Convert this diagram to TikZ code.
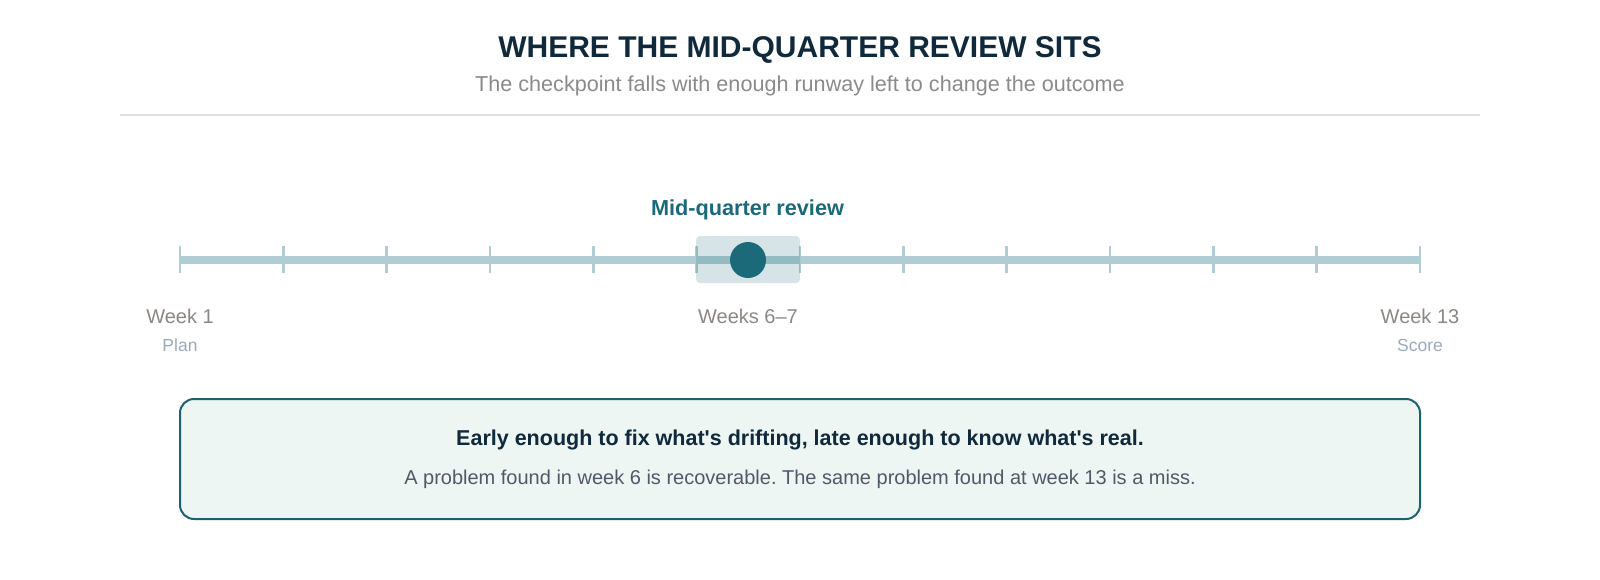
\documentclass[tikz,border=0pt]{standalone}
\usepackage{fontspec}
\setmainfont{Liberation Sans}
\definecolor{titleink}{HTML}{10293B}
\definecolor{subgrey}{HTML}{8A8A8A}
\definecolor{rulegrey}{HTML}{DEDEDE}
\definecolor{railblue}{HTML}{AFCDD2}
\definecolor{reviewteal}{HTML}{1B6A7A}
\definecolor{weekgrey}{HTML}{8C8782}
\definecolor{taggrey}{HTML}{9AAABB}
\definecolor{noteline}{HTML}{1C6170}
\definecolor{notefill}{HTML}{EDF6F3}
\definecolor{notegrey}{HTML}{505A67}
\frenchspacing
\tikzset{
  weektick/.style={draw=railblue, line width=2.8pt},
  weekname/.style={anchor=base, text=weekgrey, font=\fontsize{20}{24}\selectfont},
  weektag/.style={anchor=base, text=taggrey, font=\fontsize{17.5}{21}\selectfont},
  reviewband/.style={fill=reviewteal, fill opacity=0.18, rounded corners=4pt,
    minimum width=104pt, minimum height=47pt, inner sep=0pt},
  reviewdot/.style={circle, fill=reviewteal, minimum size=36pt, inner sep=0pt},
  notebox/.style={draw=noteline, fill=notefill, line width=2pt, rounded corners=14pt,
    minimum width=1240pt, minimum height=120pt, inner sep=0pt}
}
\begin{document}
\begin{tikzpicture}[x=1pt,y=-1pt]
		\useasboundingbox (0,0) rectangle (1600,580);
		% heading
		\node[anchor=base, text=titleink, font=\bfseries\fontsize{30}{36}\selectfont] (title) at (800,57.5) {WHERE THE MID-QUARTER REVIEW SITS};
		\node[anchor=base, text=subgrey, font=\fontsize{21.6}{26}\selectfont] (subtitle) at (800,91.5) {The checkpoint falls with enough runway left to change the outcome};
		\draw[rulegrey, line width=2pt] (120,115)--(1480,115);
		% timeline
		\coordinate (w1) at (180,260);
		\coordinate (w13) at (1420,260);
		\draw[railblue, line width=7.5pt] (w1)--(w13);
		\foreach \i in {0,...,12}
			\draw[weektick] ({180+1240*\i/12},246)--++(0,27);
		\node[reviewband] (band) at (748,259.5) {};
		\node[reviewdot] (dot) at (748,260) {};
		\node[anchor=base, text=reviewteal, font=\bfseries\fontsize{21.7}{26}\selectfont] (review) at (747.5,215.5) {Mid-quarter review};
		\node[weekname] (start) at (180,323.5) {Week 1};
		\node[weektag] (plan) at (180,351) {Plan};
		\node[weekname] (mid) at (748,323.5) {Weeks 6–7};
		\node[weekname] (end) at (1420,323.5) {Week 13};
		\node[weektag] (score) at (1420,351) {Score};
		% takeaway
		\node[notebox] (note) at (800,459) {};
		\node[anchor=base, text=titleink, font=\bfseries\fontsize{21.5}{26}\selectfont] (notehead) at (800,445.5) {Early enough to fix what\textquotesingle s drifting, late enough to know what\textquotesingle s real.};
		\node[anchor=base, text=notegrey, font=\fontsize{20}{24}\selectfont] (notebody) at (800,484.5) {A problem found in week 6 is recoverable. The same problem found at week 13 is a miss.};
\end{tikzpicture}
\end{document}
